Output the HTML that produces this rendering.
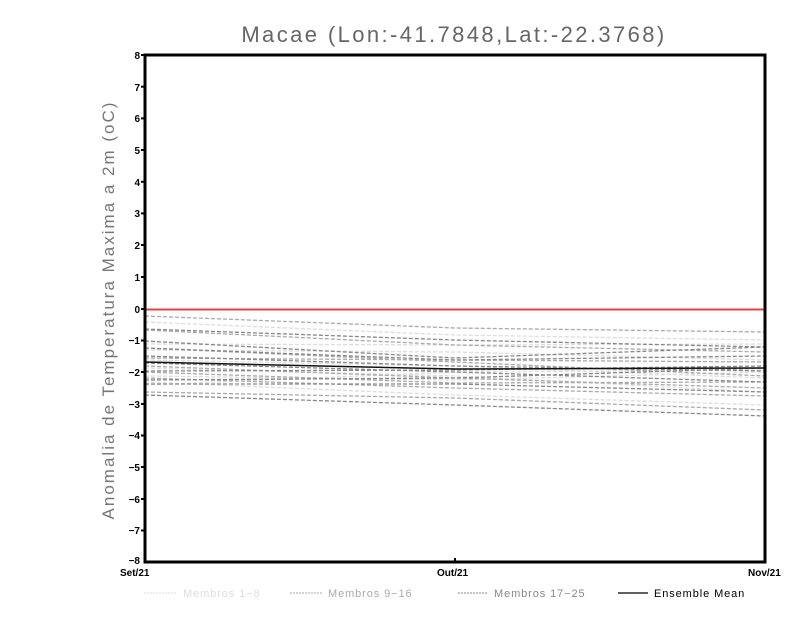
<!DOCTYPE html>
<html><head><meta charset="utf-8"><style>
body{margin:0;background:#fff;width:800px;height:618px;overflow:hidden}
text{font-family:"Liberation Sans",sans-serif}
</style></head><body>
<svg width="800" height="618" viewBox="0 0 800 618" xmlns="http://www.w3.org/2000/svg">
<text x="454" y="42" font-size="22" fill="#666" text-anchor="middle" letter-spacing="2.4">Macae (Lon:-41.7848,Lat:-22.3768)</text>
<text transform="translate(114,310) rotate(-90)" font-size="17" fill="#777" text-anchor="middle" letter-spacing="2">Anomalia de Temperatura Maxima a 2m (oC)</text>
<g stroke-width="1.3" fill="none" stroke-dasharray="4,2">
<g stroke="#ddd">
<polyline points="145,322 455,335 765,340"/>
<polyline points="145,350 455,352 765,360"/>
<polyline points="145,368 455,376 765,392"/>
<polyline points="145,376 455,380 765,372"/>
<polyline points="145,385 455,372 765,370"/>
<polyline points="145,360 455,366 765,378"/>
<polyline points="145,344 455,345 765,344"/>
<polyline points="145,382 455,395 765,405"/>
</g>
<g stroke="#aaa">
<polyline points="145,316 455,328 765,332"/>
<polyline points="145,330 455,345 765,352"/>
<polyline points="145,358 455,360 765,362"/>
<polyline points="145,372 455,383 765,382"/>
<polyline points="145,366 455,378 765,388"/>
<polyline points="145,392 455,398 765,410"/>
<polyline points="145,348 455,362 765,376"/>
<polyline points="145,378 455,388 765,396"/>
</g>
<g stroke="#888">
<polyline points="145,329 455,340 765,347"/>
<polyline points="145,341 455,358 765,347"/>
<polyline points="145,348 455,360 765,356"/>
<polyline points="145,356 455,366 765,371"/>
<polyline points="145,363 455,372 765,382"/>
<polyline points="145,371 455,370 765,366"/>
<polyline points="145,380 455,378 765,368"/>
<polyline points="145,384 455,384 765,392"/>
<polyline points="145,395 455,405 765,416"/>
</g>
</g>
<polyline points="145,362 455,369 765,368" stroke="#111" stroke-width="1.5" fill="none"/>
<line x1="145" y1="309.5" x2="765" y2="309.5" stroke="#e84040" stroke-width="2"/>
<rect x="145" y="55" width="620" height="507" fill="none" stroke="#000" stroke-width="3"/>
<g stroke="#000" stroke-width="2">
<line x1="141" y1="55" x2="145" y2="55"/><line x1="141" y1="86.7" x2="145" y2="86.7"/><line x1="141" y1="118.4" x2="145" y2="118.4"/><line x1="141" y1="150" x2="145" y2="150"/><line x1="141" y1="181.8" x2="145" y2="181.8"/><line x1="141" y1="213.4" x2="145" y2="213.4"/><line x1="141" y1="245" x2="145" y2="245"/><line x1="141" y1="277" x2="145" y2="277"/><line x1="141" y1="309" x2="145" y2="309"/><line x1="141" y1="340.5" x2="145" y2="340.5"/><line x1="141" y1="372" x2="145" y2="372"/><line x1="141" y1="404" x2="145" y2="404"/><line x1="141" y1="435.5" x2="145" y2="435.5"/><line x1="141" y1="467" x2="145" y2="467"/><line x1="141" y1="499" x2="145" y2="499"/><line x1="141" y1="530.5" x2="145" y2="530.5"/>
<line x1="455" y1="558" x2="455" y2="562"/>
</g>
<g font-size="10" font-weight="bold" text-anchor="end" fill="#000">
<text x="140" y="59">8</text><text x="140" y="91">7</text><text x="140" y="122">6</text><text x="140" y="154">5</text><text x="140" y="186">4</text><text x="140" y="217">3</text><text x="140" y="249">2</text><text x="140" y="281">1</text><text x="140" y="313">0</text><text x="140" y="344">−1</text><text x="140" y="376">−2</text><text x="140" y="408">−3</text><text x="140" y="439">−4</text><text x="140" y="471">−5</text><text x="140" y="503">−6</text><text x="140" y="534">−7</text><text x="140" y="564">−8</text>
</g>
<g font-size="10" font-weight="bold" fill="#000">
<text x="120" y="576">Set/21</text><text x="437" y="576">Out/21</text><text x="748" y="576">Nov/21</text>
</g>
<g font-size="11" stroke-width="1" letter-spacing="0.9">
<line x1="144" y1="593" x2="176" y2="593" stroke="#ddd" stroke-dasharray="2,1"/><text x="183" y="597" fill="#ddd">Membros 1−8</text>
<line x1="290" y1="593" x2="322" y2="593" stroke="#aaa" stroke-dasharray="2,1"/><text x="328" y="597" fill="#aaa">Membros 9−16</text>
<line x1="458" y1="593" x2="488" y2="593" stroke="#888" stroke-dasharray="2,1"/><text x="494" y="597" fill="#888">Membros 17−25</text>
<line x1="618" y1="593" x2="648" y2="593" stroke="#000" stroke-width="1.3"/><text x="654" y="597" fill="#000">Ensemble Mean</text>
</g>
</svg>
</body></html>
